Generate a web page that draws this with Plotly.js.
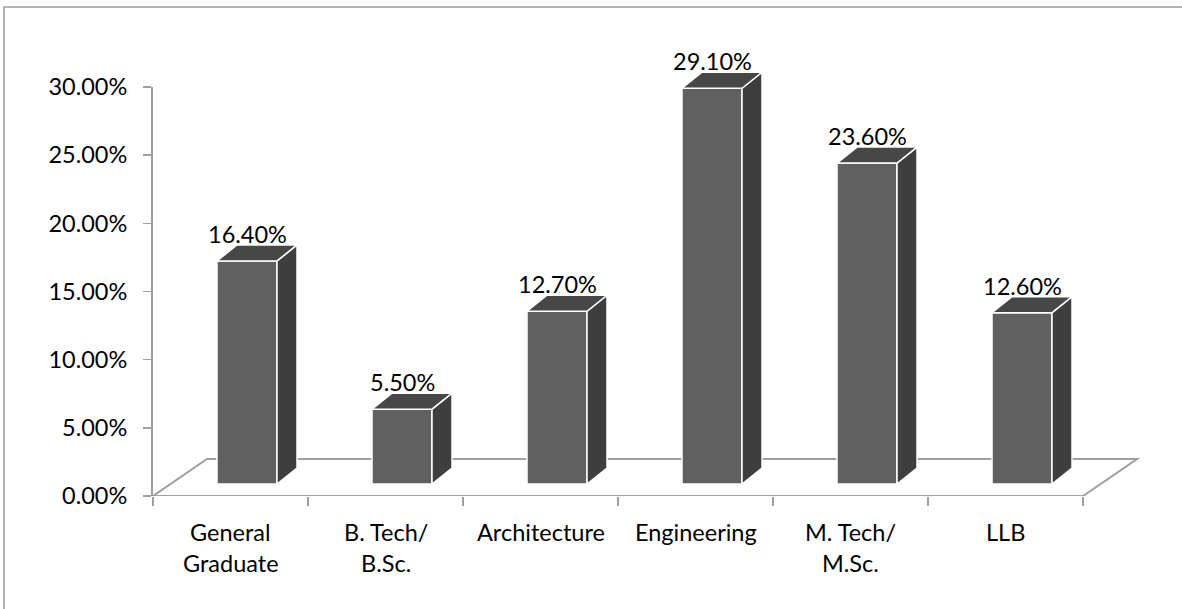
<!DOCTYPE html>
<html>
<head>
<meta charset="utf-8">
<script src="https://cdn.plot.ly/plotly-3.0.1.min.js"></script>
<style>
  html, body { margin: 0; padding: 0; background: #fff; }
  #chart { width: 1182px; height: 609px; }
</style>
</head>
<body>
<div id="chart"></div>
<script>
// Share of students by course
const categories = ["General<br>Graduate", "B. Tech/<br>B.Sc.", "Architecture", "Engineering", "M. Tech/<br>M.Sc.", "LLB"];
const shares = [16.4, 5.5, 12.7, 29.1, 23.6, 12.6];
const yTicks = [0, 5, 10, 15, 20, 25, 30];

// Page geometry (pixels)
const W = 1182, H = 609;
const M = { l: 153, r: 42, t: 0, b: 100 };
const plotTop = M.t, plotBot = H - M.b, plotH = plotBot - plotTop;
const slotPx = 155;                      // width of one category slot
const pxToX = px => -0.5 + (px - M.l) / slotPx;
const frac = py => (plotBot - py) / plotH;

// value axis (visible) and bar axis (front faces sit slightly above the floor edge)
const axis0 = 496, axis30 = 87;
const bar0 = 484, barPxPerUnit = 13.6;
const barMax = 34;                       // headroom so the tallest label stays inside the axis
const barTopPx = bar0 - barPxPerUnit * barMax;

// 3D depth of the bars and of the floor
const barOff = 16.5 / slotPx, barW = 60 / slotPx;
const depthX = 20 / slotPx, depthY = 16 / barPxPerUnit;
const axisPxPerUnit = (axis0 - axis30) / 30;
const floorDX = 54 / slotPx, floorDY = 37 / axisPxPerUnit;

const idx = categories.map((_, i) => i);
const front = idx.map(i => i + barOff);

const topX = [], topY = [], sideX = [], sideY = [];
idx.forEach(i => {
  const xl = front[i] - barW / 2, xr = front[i] + barW / 2, v = shares[i];
  topX.push(xl, xl + depthX, xr + depthX, xr, xl, null);
  topY.push(v, v + depthY, v + depthY, v, v, null);
  sideX.push(xr, xr + depthX, xr + depthX, xr, xr, null);
  sideY.push(0, depthY, v + depthY, v, 0, null);
});

const edge = { color: '#ffffff', width: 1.5 };
const traces = [
  {
    type: 'bar', x: front, y: shares, width: barW, xaxis: 'x', yaxis: 'y2',
    marker: { color: '#606060', line: edge }, hoverinfo: 'skip'
  },
  {
    type: 'scatter', mode: 'lines', x: sideX, y: sideY, xaxis: 'x', yaxis: 'y2',
    fill: 'toself', fillcolor: '#3e3e3e', line: edge, hoverinfo: 'skip'
  },
  {
    type: 'scatter', mode: 'lines', x: topX, y: topY, xaxis: 'x', yaxis: 'y2',
    fill: 'toself', fillcolor: '#474747', line: edge, hoverinfo: 'skip'
  }
];

const font = { family: 'Lato, "Open Sans", sans-serif', size: 23.5, color: '#000' };
const grey = '#a0a0a0';

const annotations = [];
// value labels above each bar
idx.forEach(i => {
  annotations.push({
    x: front[i], y: shares[i] + depthY, xref: 'x', yref: 'y2',
    text: shares[i].toFixed(2) + '%', showarrow: false,
    xanchor: 'center', yanchor: 'middle', yshift: 11, font: font
  });
});
// category labels, one annotation per line
idx.forEach(i => {
  categories[i].split('<br>').forEach((line, k) => {
    annotations.push({
      x: i, y: 0, xref: 'x', yref: 'y', text: line, showarrow: false,
      xanchor: 'center', yanchor: 'middle', yshift: -(36 + 31 * k), font: font
    });
  });
});

const xL = -0.5, xR = pxToX(M.l + slotPx * 6);
const shapes = [
  // floor outline
  { type: 'path', xref: 'x', yref: 'y', layer: 'below',
    path: `M ${xL},0 L ${xR},0 L ${xR + floorDX},${floorDY} L ${xL + floorDX},${floorDY} Z`,
    line: { color: grey, width: 2 } },
  // outer frame
  { type: 'rect', xref: 'paper', yref: 'paper', layer: 'below',
    x0: (4 - M.l) / (W - M.l - M.r), x1: (W + 10 - M.l) / (W - M.l - M.r),
    y0: frac(H + 10), y1: frac(7),
    line: { color: '#9a9a9a', width: 1.5 } }
];

const layout = {
  width: W, height: H,
  margin: M,
  paper_bgcolor: '#fff', plot_bgcolor: 'rgba(0,0,0,0)',
  showlegend: false,
  font: font,
  xaxis: {
    range: [pxToX(M.l), pxToX(W - M.r)], anchor: 'y',
    showgrid: false, zeroline: false, showline: false,
    tickmode: 'array', tickvals: [-0.5, 0.5, 1.5, 2.5, 3.5, 4.5, 5.5],
    ticks: 'outside', ticklen: 9, tickwidth: 1.5, tickcolor: grey,
    showticklabels: false, fixedrange: true
  },
  yaxis: {
    domain: [frac(axis0), frac(axis30)], range: [0, 30], anchor: 'x',
    showgrid: false, zeroline: false,
    showline: true, linecolor: grey, linewidth: 2,
    tickmode: 'array', tickvals: yTicks,
    ticktext: yTicks.map(t => t.toFixed(2) + '%'),
    ticks: 'outside', ticklen: 8, tickwidth: 1.5, tickcolor: grey,
    ticklabelstandoff: 11,
    tickfont: font, fixedrange: true
  },
  yaxis2: {
    domain: [frac(bar0), frac(barTopPx)], range: [0, barMax], anchor: 'x',
    visible: false, fixedrange: true
  },
  bargap: 0,
  annotations: annotations,
  shapes: shapes
};

Plotly.newPlot('chart', traces, layout, { staticPlot: true, displayModeBar: false });
</script>
</body>
</html>
